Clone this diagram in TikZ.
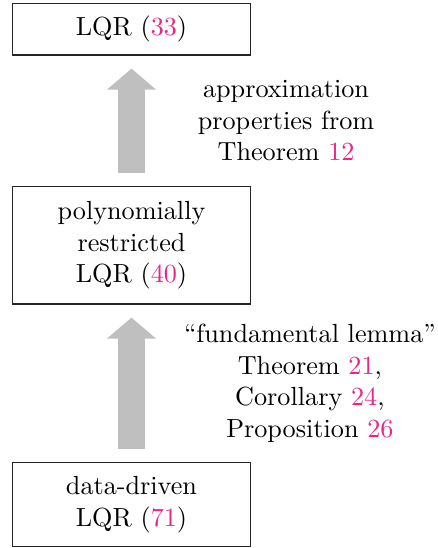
\documentclass[tikz,border=0pt]{standalone}
\usepackage{tikz}
\usetikzlibrary{arrows.meta,positioning}
\definecolor{refpink}{RGB}{232,38,138}
\newcommand{\rf}[1]{\textcolor{refpink}{#1}}

\begin{document}
\begin{tikzpicture}[x=1pt,y=1pt]
                \tikzstyle{every node}+=[align=center]
                \tikzstyle{box}=[draw=black!85, minimum width=91.2pt, inner sep=0pt]
                \tikzstyle{bigarrow}=[draw=gray!50, line width=10pt, -{Triangle[length=8pt,width=18.3pt]}, shorten <=5pt, shorten >=5pt]
                \useasboundingbox (0,0) rectangle (167.2,-209.2);
                % the three problems
                \node [box, minimum height=19.8pt] (lqr) at (50.2,-11.1) {LQR (\rf{33})};
                \node [box, minimum height=44.7pt] (poly) at (50.2,-93.7) {polynomially\\restricted\\LQR (\rf{40})};
                \node [box, minimum height=32.1pt] (data) at (50.2,-192.7) {data-driven\\LQR (\rf{71})};
                % the links between them
                \draw [bigarrow] (poly) -- (lqr) node [midway, xshift=59pt] {approximation\\properties from\\Theorem \rf{12}};
                \draw [bigarrow] (data) -- (poly) node [midway, xshift=68.1pt] {``fundamental lemma''\\Theorem \rf{21},\\Corollary \rf{24},\\Proposition \rf{26}};
            \end{tikzpicture}
\end{document}
